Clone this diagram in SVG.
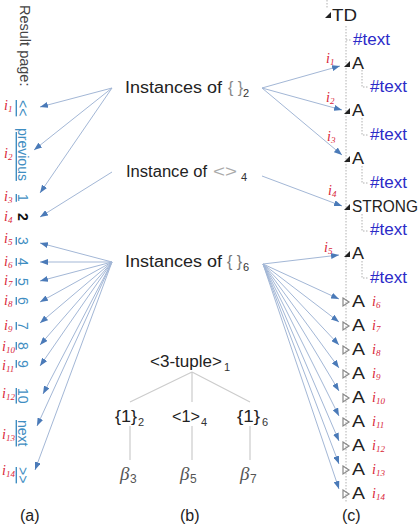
<svg xmlns="http://www.w3.org/2000/svg" width="419" height="525" viewBox="0 0 419 525">
<style>
.sans{font-family:"Liberation Sans",Arial,sans-serif}
.lbl{font-family:"Liberation Sans",Arial,sans-serif;font-size:16px;fill:#222}
.sub{font-family:"Liberation Sans",Arial,sans-serif;font-size:11px;fill:#333}
.ri{font-family:"Liberation Serif","Times New Roman",serif;font-style:italic;font-size:14px;fill:#d9263a}
.ri tspan{font-size:9px}
.link{font-family:"Liberation Sans",Arial,sans-serif;font-size:14px;fill:#3f8ec2;text-decoration:underline}
.node{font-family:"Liberation Sans",Arial,sans-serif;font-size:16px;fill:#222}
.txt{font-family:"Liberation Sans",Arial,sans-serif;font-size:16px;fill:#2b2bc8}
.dot{stroke:#b0b0b0;stroke-width:1;stroke-dasharray:1.5 1.5;fill:none}
.arrow{stroke:#a3b7d6;stroke-width:1;fill:none;marker-end:url(#arr)}
.tree{stroke:#cccccc;stroke-width:1.2;fill:none}
.tri{fill:#222}
.htri{fill:none;stroke:#888;stroke-width:1.2}
.beta{font-family:"Liberation Serif","Times New Roman",serif;font-style:italic;font-size:19px;fill:#555}
.bsub{font-family:"Liberation Sans",Arial,sans-serif;font-size:12px;fill:#555}
.cap{font-family:"Liberation Sans",Arial,sans-serif;font-size:16px;fill:#222}
</style>
<defs>
<marker id="arr" viewBox="0 0 8 6" refX="8" refY="3" markerWidth="8" markerHeight="6" markerUnits="userSpaceOnUse" orient="auto">
<path d="M0,0 L8,3 L0,6 z" fill="#4a7ab8"/>
</marker>
</defs>
<rect width="419" height="525" fill="#ffffff"/>

<g id="connectors">
<path class="arrow" d="M112,88 L40,107"/>
<path class="arrow" d="M112,88 L34,150"/>
<path class="arrow" d="M112,88 L40,193"/>
<path class="arrow" d="M112,172 L40,217"/>
<path class="arrow" d="M112,262 L40,243"/>
<path class="arrow" d="M112,262 L40,262"/>
<path class="arrow" d="M112,262 L40,281"/>
<path class="arrow" d="M112,262 L40,302"/>
<path class="arrow" d="M112,262 L40,323"/>
<path class="arrow" d="M112,262 L40,345"/>
<path class="arrow" d="M112,262 L40,366"/>
<path class="arrow" d="M112,262 L43,394"/>
<path class="arrow" d="M112,262 L37,426"/>
<path class="arrow" d="M112,262 L35,470"/>
<path class="arrow" d="M262,88 L340,66"/>
<path class="arrow" d="M262,88 L342,110"/>
<path class="arrow" d="M262,88 L342,155"/>
<path class="arrow" d="M262,176 L342,206"/>
<path class="arrow" d="M263,264 L339,255"/>
<path class="arrow" d="M263,264 L339,299"/>
<path class="arrow" d="M263,264 L339,322"/>
<path class="arrow" d="M263,264 L339,345"/>
<path class="arrow" d="M263,264 L339,368"/>
<path class="arrow" d="M263,264 L339,391"/>
<path class="arrow" d="M263,264 L339,416"/>
<path class="arrow" d="M263,264 L339,441"/>
<path class="arrow" d="M263,264 L339,464"/>
<path class="arrow" d="M263,264 L339,489"/>
<path class="tree" d="M192,372 L130,402 M192,372 L192,402 M192,372 L250,402"/>
<path class="tree" d="M130,426 L130,460 M192,426 L192,460 M250,426 L250,460"/>
<path class="dot" d="M327,0 L327,9"/>
<path class="dot" d="M346,26 L346,503"/>
<path class="dot" d="M346,40 L352,40"/>
<path class="dot" d="M362,70 L362,87 L369,87"/>
<path class="dot" d="M362,118 L362,135 L369,135"/>
<path class="dot" d="M362,166 L362,183 L369,183"/>
<path class="dot" d="M362,214 L362,231 L369,231"/>
<path class="dot" d="M362,261 L362,278 L369,278"/>
</g>

<g id="result-page">
<text class="sans" font-size="14.5" fill="#444" transform="translate(20,5) rotate(90)">Result page:</text>
<text class="link" transform="translate(18,100) rotate(90)">&lt;&lt;</text>
<text class="link" transform="translate(18,128) rotate(90)">previous</text>
<text class="link" transform="translate(18,194) rotate(90)">1</text>
<text class="sans" font-size="14" font-weight="bold" fill="#111" transform="translate(18,213) rotate(90)">2</text>
<text class="link" transform="translate(18,237) rotate(90)">3</text>
<text class="link" transform="translate(18,258) rotate(90)">4</text>
<text class="link" transform="translate(18,278) rotate(90)">5</text>
<text class="link" transform="translate(18,297) rotate(90)">6</text>
<text class="link" transform="translate(18,322) rotate(90)">7</text>
<text class="link" transform="translate(18,342) rotate(90)">8</text>
<text class="link" transform="translate(18,360) rotate(90)">9</text>
<text class="link" transform="translate(18,388) rotate(90)">10</text>
<text class="link" transform="translate(18,420) rotate(90)">next</text>
<text class="link" transform="translate(18,467) rotate(90)">&gt;&gt;</text>
<text class="ri" x="4" y="110">i<tspan dy="2">1</tspan></text>
<text class="ri" x="4" y="158">i<tspan dy="2">2</tspan></text>
<text class="ri" x="4" y="201">i<tspan dy="2">3</tspan></text>
<text class="ri" x="4" y="221">i<tspan dy="2">4</tspan></text>
<text class="ri" x="4" y="243">i<tspan dy="2">5</tspan></text>
<text class="ri" x="4" y="266">i<tspan dy="2">6</tspan></text>
<text class="ri" x="4" y="285">i<tspan dy="2">7</tspan></text>
<text class="ri" x="4" y="305">i<tspan dy="2">8</tspan></text>
<text class="ri" x="4" y="330">i<tspan dy="2">9</tspan></text>
<text class="ri" x="2" y="351">i<tspan dy="2">10</tspan></text>
<text class="ri" x="2" y="370">i<tspan dy="2">11</tspan></text>
<text class="ri" x="2" y="398">i<tspan dy="2">12</tspan></text>
<text class="ri" x="2" y="439">i<tspan dy="2">13</tspan></text>
<text class="ri" x="2" y="475">i<tspan dy="2">14</tspan></text>
<text class="cap" x="20" y="521">(a)</text>
</g>

<g id="instances-2">
<text class="lbl" x="125" y="93" textLength="97" lengthAdjust="spacingAndGlyphs">Instances of</text>
<text class="lbl" x="228" y="93" fill="#888" style="fill:#888">{ }</text>
<text class="sub" x="243" y="97">2</text>
</g>
<g id="instance-4">
<text class="lbl" x="126" y="177" textLength="81" lengthAdjust="spacingAndGlyphs">Instance of</text>
<text class="lbl" x="213" y="177" style="fill:#aaa" textLength="24" lengthAdjust="spacingAndGlyphs">&lt;&gt;</text>
<text class="sub" x="241" y="181">4</text>
</g>
<g id="instances-6">
<text class="lbl" x="125" y="267" textLength="97" lengthAdjust="spacingAndGlyphs">Instances of</text>
<text class="lbl" x="227" y="267" style="fill:#777">{ }</text>
<text class="sub" x="243" y="271">6</text>
</g>

<g id="tuple">
<text class="lbl" x="150" y="367" textLength="72" lengthAdjust="spacingAndGlyphs">&lt;3-tuple&gt;</text>
<text class="sub" x="224" y="371">1</text>
</g>
<g id="set-2">
<text class="lbl" x="115" y="422" textLength="22" lengthAdjust="spacingAndGlyphs">{1}</text>
<text class="sub" x="138" y="426">2</text>
</g>
<g id="tuple-4">
<text class="lbl" x="172" y="422" textLength="28" lengthAdjust="spacingAndGlyphs">&lt;1&gt;</text>
<text class="sub" x="201" y="426">4</text>
</g>
<g id="set-6">
<text class="lbl" x="237" y="422" textLength="23" lengthAdjust="spacingAndGlyphs">{1}</text>
<text class="sub" x="262" y="426">6</text>
</g>
<g id="beta-3"><text class="beta" x="120" y="480">β</text><text class="bsub" x="130" y="483">3</text></g>
<g id="beta-5"><text class="beta" x="180" y="480">β</text><text class="bsub" x="190" y="483">5</text></g>
<g id="beta-7"><text class="beta" x="240" y="480">β</text><text class="bsub" x="250" y="483">7</text></g>
<text class="cap" x="180" y="521">(b)</text>

<g id="dom-tree">
<polygon class="tri" points="325,18 331,18 331,12"/>
<text class="node" x="332" y="21" textLength="25" lengthAdjust="spacingAndGlyphs">TD</text>
<text class="txt" x="353" y="45" textLength="37" lengthAdjust="spacingAndGlyphs">#text</text>

<polygon class="tri" points="344,67 350,67 350,61"/>
<text class="node" x="352" y="69" textLength="12" lengthAdjust="spacingAndGlyphs">A</text>
<text class="txt" x="370" y="92" textLength="37" lengthAdjust="spacingAndGlyphs">#text</text>

<polygon class="tri" points="344,114 350,114 350,108"/>
<text class="node" x="352" y="116" textLength="12" lengthAdjust="spacingAndGlyphs">A</text>
<text class="txt" x="370" y="140" textLength="37" lengthAdjust="spacingAndGlyphs">#text</text>

<polygon class="tri" points="344,162 350,162 350,156"/>
<text class="node" x="352" y="164" textLength="12" lengthAdjust="spacingAndGlyphs">A</text>
<text class="txt" x="370" y="188" textLength="37" lengthAdjust="spacingAndGlyphs">#text</text>

<polygon class="tri" points="344,210 350,210 350,204"/>
<text class="node" x="352" y="212" textLength="66" lengthAdjust="spacingAndGlyphs">STRONG</text>
<text class="txt" x="370" y="235" textLength="37" lengthAdjust="spacingAndGlyphs">#text</text>

<polygon class="tri" points="344,257 350,257 350,251"/>
<text class="node" x="352" y="259" textLength="12" lengthAdjust="spacingAndGlyphs">A</text>
<text class="txt" x="370" y="283" textLength="37" lengthAdjust="spacingAndGlyphs">#text</text>

<text class="ri" x="326" y="63">i<tspan dy="2">1</tspan></text>
<text class="ri" x="326" y="102">i<tspan dy="2">2</tspan></text>
<text class="ri" x="327" y="141">i<tspan dy="2">3</tspan></text>
<text class="ri" x="328" y="195">i<tspan dy="2">4</tspan></text>
<text class="ri" x="324" y="252">i<tspan dy="2">5</tspan></text>

<g id="a-i6"><polygon class="htri" points="343,298 349,302 343,306"/><text class="node" x="352" y="307" textLength="13" lengthAdjust="spacingAndGlyphs">A</text><text class="ri" x="372" y="306">i<tspan dy="2">6</tspan></text></g>
<g id="a-i7"><polygon class="htri" points="343,322 349,326 343,330"/><text class="node" x="352" y="331" textLength="13" lengthAdjust="spacingAndGlyphs">A</text><text class="ri" x="372" y="330">i<tspan dy="2">7</tspan></text></g>
<g id="a-i8"><polygon class="htri" points="343,346 349,350 343,354"/><text class="node" x="352" y="355" textLength="13" lengthAdjust="spacingAndGlyphs">A</text><text class="ri" x="372" y="354">i<tspan dy="2">8</tspan></text></g>
<g id="a-i9"><polygon class="htri" points="343,370 349,374 343,378"/><text class="node" x="352" y="379" textLength="13" lengthAdjust="spacingAndGlyphs">A</text><text class="ri" x="372" y="378">i<tspan dy="2">9</tspan></text></g>
<g id="a-i10"><polygon class="htri" points="343,394 349,398 343,402"/><text class="node" x="352" y="403" textLength="13" lengthAdjust="spacingAndGlyphs">A</text><text class="ri" x="372" y="402">i<tspan dy="2">10</tspan></text></g>
<g id="a-i11"><polygon class="htri" points="343,418 349,422 343,426"/><text class="node" x="352" y="427" textLength="13" lengthAdjust="spacingAndGlyphs">A</text><text class="ri" x="372" y="426">i<tspan dy="2">11</tspan></text></g>
<g id="a-i12"><polygon class="htri" points="343,442 349,446 343,450"/><text class="node" x="352" y="451" textLength="13" lengthAdjust="spacingAndGlyphs">A</text><text class="ri" x="372" y="450">i<tspan dy="2">12</tspan></text></g>
<g id="a-i13"><polygon class="htri" points="343,466 349,470 343,474"/><text class="node" x="352" y="475" textLength="13" lengthAdjust="spacingAndGlyphs">A</text><text class="ri" x="372" y="474">i<tspan dy="2">13</tspan></text></g>
<g id="a-i14"><polygon class="htri" points="343,490 349,494 343,498"/><text class="node" x="352" y="499" textLength="13" lengthAdjust="spacingAndGlyphs">A</text><text class="ri" x="372" y="498">i<tspan dy="2">14</tspan></text></g>
<text class="cap" x="342" y="521">(c)</text>
</g>
</svg>
